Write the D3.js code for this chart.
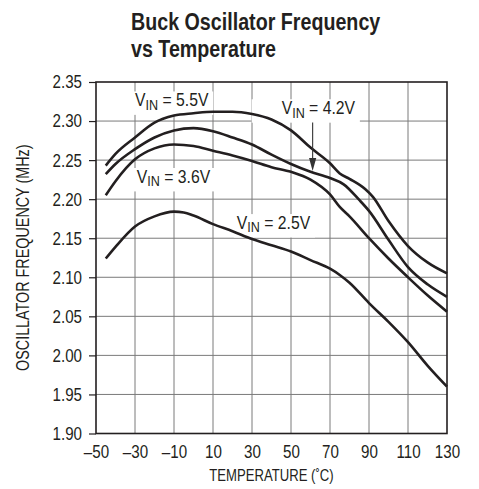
<!DOCTYPE html>
<html><head><meta charset="utf-8">
<script src="https://cdn.jsdelivr.net/npm/d3@7"></script>
<style>
body{margin:0;background:#fff}
svg{display:block}
text{font-family:"Liberation Sans",Arial,sans-serif;fill:#231f20}
</style>
</head><body>
<svg id="chart" width="479" height="489"></svg>
<script>
// ---- data ----
const tempTicks = [-50, -30, -10, 10, 30, 50, 70, 90, 110, 130];
const freqTicks = [1.90, 1.95, 2.00, 2.05, 2.10, 2.15, 2.20, 2.25, 2.30, 2.35];

const temp55 = [-45, -40, -30, -20, -10, 0, 10, 20, 30, 40, 50, 60, 70, 75, 80, 88, 92, 100, 110, 120, 130];
const freq55 = [2.243, 2.258, 2.279, 2.298, 2.307, 2.310, 2.312, 2.312, 2.309, 2.302, 2.288, 2.266, 2.246, 2.233, 2.226, 2.213, 2.203, 2.172, 2.140, 2.119, 2.105];

const temp42 = [-45, -40, -30, -20, -10, 0, 10, 20, 30, 40, 50, 60, 70, 77, 85, 90, 100, 110, 120, 130];
const freq42 = [2.232, 2.245, 2.264, 2.279, 2.288, 2.291, 2.287, 2.279, 2.270, 2.257, 2.245, 2.235, 2.227, 2.219, 2.199, 2.185, 2.148, 2.113, 2.091, 2.075];

const temp36 = [-45, -40, -30, -20, -10, 0, 10, 20, 30, 40, 50, 60, 70, 75, 80, 90, 100, 110, 120, 130];
const freq36 = [2.205, 2.223, 2.251, 2.265, 2.270, 2.268, 2.262, 2.256, 2.249, 2.241, 2.235, 2.225, 2.206, 2.190, 2.178, 2.150, 2.124, 2.100, 2.077, 2.056];

const temp25 = [-45, -40, -30, -20, -10, -5, 0, 10, 20, 30, 40, 50, 60, 70, 75, 80, 90, 100, 110, 120, 130];
const freq25 = [2.124, 2.139, 2.165, 2.178, 2.184, 2.183, 2.179, 2.168, 2.159, 2.149, 2.141, 2.133, 2.122, 2.111, 2.103, 2.093, 2.067, 2.043, 2.017, 1.987, 1.960];

const seriesNames = ["5.5V", "4.2V", "3.6V", "2.5V"];
// label anchors in data units (temperature, frequency)
const labelTemps = [-30, 45.2, -29.1, 22.2];
const labelFreqs = [2.319, 2.309, 2.221, 2.162];

const titleLines = ["Buck Oscillator Frequency", "vs Temperature"];
const xTitle = "TEMPERATURE (\u02DAC)";
const yTitle = "OSCILLATOR FREQUENCY (MHz)";

// ---- layout ----
const svg = d3.select("#chart");
const L = 96, R = 447, T = 82, B = 433.5;
const x = d3.scaleLinear().domain([-50, 130]).range([L, R]);
const y = d3.scaleLinear().domain([1.90, 2.35]).range([B, T]);
const ink = "#231f20";
const NARROW = 0.82;

// title
titleLines.forEach((s, i) => {
  svg.append("text").attr("transform", `translate(131,${30 + i * 27}) scale(${NARROW},1)`)
    .style("font-size", "24px").style("font-weight", "bold").text(s);
});

// grid
const grid = svg.append("g");
grid.selectAll("line.v").data(tempTicks.slice(1, -1)).join("line")
  .attr("x1", d => x(d)).attr("x2", d => x(d)).attr("y1", T).attr("y2", B)
  .attr("stroke", "#7a7a7a").attr("stroke-width", 1);
grid.selectAll("line.h").data(freqTicks.slice(1, -1)).join("line")
  .attr("y1", d => y(d)).attr("y2", d => y(d)).attr("x1", L).attr("x2", R)
  .attr("stroke", "#7a7a7a").attr("stroke-width", 1);

// curves layer (placed later above label boxes)
const boxLayer = svg.append("g");
const curveG = svg.append("g");
const labLayer = svg.append("g");

const LS = 0.9;
const padL = [3, 30, 3, 3];
seriesNames.forEach((name, i) => {
  const gBox = boxLayer.append("g")
    .attr("transform", `translate(${x(labelTemps[i])},${y(labelFreqs[i])}) scale(${LS},1)`);
  const g = labLayer.append("g")
    .attr("transform", `translate(${x(labelTemps[i])},${y(labelFreqs[i])}) scale(${LS},1)`);
  const t = g.append("text").style("font-size", "17.5px");
  t.append("tspan").text("V");
  t.append("tspan").attr("dy", 3.5).style("font-size", "14px").text("IN");
  t.append("tspan").attr("dy", -3.5).text(" = " + name);
  const bb = t.node().getBBox();
  gBox.append("rect").attr("x", bb.x - padL[i] / LS).attr("y", bb.y + 1)
    .attr("width", bb.width + (padL[i] + 4) / LS).attr("height", bb.height + 1)
    .attr("fill", "#fff");
});

const line = d3.line().x(d => x(d[0])).y(d => y(d[1])).curve(d3.curveMonotoneX);
const series = [
  d3.zip(temp55, freq55), d3.zip(temp42, freq42), d3.zip(temp36, freq36), d3.zip(temp25, freq25)
];
curveG.selectAll("path").data(series).join("path")
  .attr("d", line).attr("fill", "none").attr("stroke", ink)
  .attr("stroke-width", 2.6).attr("stroke-linejoin", "round").attr("stroke-linecap", "butt");

// arrow for 4.2V
const arrowT = 61.1;
const ax = x(arrowT), ay1 = y(2.298), ay2 = y(2.236);
svg.append("line").attr("x1", ax).attr("x2", ax).attr("y1", ay1).attr("y2", ay2 - 10)
  .attr("stroke", "#333").attr("stroke-width", 1.1);
svg.append("path").attr("d", `M${ax},${ay2} L${ax - 3.6},${ay2 - 13} L${ax + 3.6},${ay2 - 13} Z`)
  .attr("fill", "#333");

// axes
const yAxis = d3.axisLeft(y).tickValues(freqTicks).tickFormat(d3.format(".2f"))
  .tickSize(7).tickPadding(7).tickSizeOuter(0);
const gy = svg.append("g").attr("transform", `translate(${L},0)`).call(yAxis)
  .attr("font-family", null).attr("font-size", null);
gy.select(".domain").remove();
gy.selectAll("line").attr("stroke", ink).attr("stroke-width", 1.2);
gy.selectAll("text").style("font-size", "18.5px").attr("fill", ink)
  .attr("transform", `translate(-14,0) scale(${NARROW},1)`).attr("x", 0);

const xAxis = d3.axisBottom(x).tickValues(tempTicks)
  .tickFormat(d => d < 0 ? "\u2013" + Math.abs(d) : String(d))
  .tickSize(0).tickPadding(11.5).tickSizeOuter(0);
const gx = svg.append("g").attr("transform", `translate(0,${B})`).call(xAxis)
  .attr("font-family", null).attr("font-size", null);
gx.select(".domain").remove();
gx.selectAll("text").style("font-size", "18.5px").attr("fill", ink)
  .attr("transform", `scale(${NARROW},1)`);

// frame
svg.append("rect").attr("x", L).attr("y", T).attr("width", R - L).attr("height", B - T)
  .attr("fill", "none").attr("stroke", ink).attr("stroke-width", 1.6);

// axis titles
svg.append("text").attr("transform", `translate(${(L + R) / 2},481) scale(${NARROW},1)`)
  .attr("text-anchor", "middle").style("font-size", "16px").text(xTitle);
svg.append("text").attr("transform", `translate(29,${(T + B) / 2}) rotate(-90) scale(${NARROW},1)`)
  .attr("text-anchor", "middle").style("font-size", "17.5px").text(yTitle);
</script>
</body></html>
